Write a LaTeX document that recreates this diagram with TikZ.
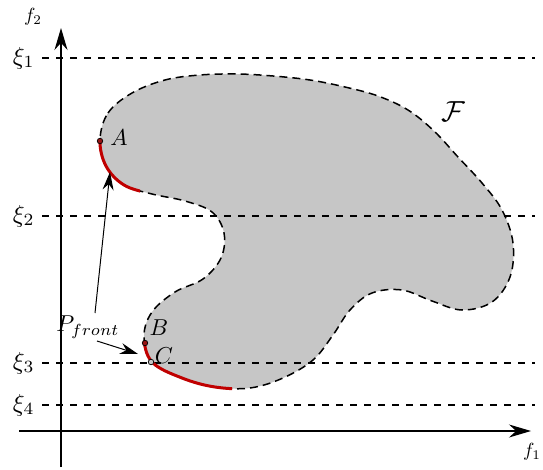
\documentclass[tikz,border=0pt]{standalone}
\usetikzlibrary{arrows.meta}
\definecolor{regiongray}{RGB}{198,198,198}
\definecolor{frontred}{RGB}{192,0,0}
\definecolor{dotred}{RGB}{150,20,20}
\begin{document}
\begin{tikzpicture}[x=1pt,y=-1pt,
 lbl/.style={scale=2.3, inner sep=0pt},
 xilbl/.style={scale=2.45, inner sep=0pt},
 axlbl/.style={scale=1.9, inner sep=0pt},
 guide/.style={dash pattern=on 7pt off 7pt, line width=1.1pt},
 boundary/.style={dash pattern=on 8pt off 5pt, line width=1.5pt},
 frontline/.style={draw=frontred, line width=3pt},
 axisline/.style={line width=1.2pt, -{Stealth[length=22pt,width=13pt]}},
 ptr/.style={line width=1pt, -{Stealth[length=18pt,width=11pt]}},
 ptdot/.style={circle, draw=black, line width=0.7pt, inner sep=0pt, minimum size=5.5pt}]
\useasboundingbox (0,0) rectangle (543,470);
\def\myregion{plot[smooth cycle, tension=0.6] coordinates {
 (100,140) (108,113) (132,93) (165,80) (200,75) (237,74) (273,76) (310,80)
 (345,87) (378,96) (408,110) (434,131) (458,157) (482,183) (502,210)
 (513,243) (510,277) (492,302) (462,310) (432,301) (402,290) (372,293)
 (350,310) (333,335) (313,360) (283,378) (250,388) (215,387) (182,378)
 (152,362) (144,336) (152,312) (175,292) (203,279) (221,258) (224,233)
 (212,212) (185,201) (152,194) (124,185) (106,166)}}
% region
\fill[regiongray] \myregion;
% guide lines
\foreach \n/\y in {1/58,2/216,3/363,4/405}{
  \coordinate (gs\n) at (42,\y);
  \coordinate (ge\n) at (535,\y);
  \draw[guide] (gs\n) -- (ge\n);
  \node[xilbl, anchor=east] (xi\n) at (35,\y) {$\xi_{\n}$};
}
% boundary
\draw[boundary] \myregion;
% Pareto front parts
\begin{scope}
 \clip (90,141) rectangle (140,200);
 \draw[frontline] \myregion;
\end{scope}
\begin{scope}
 \clip (130,343) rectangle (232,400);
 \draw[frontline] \myregion;
\end{scope}
% axes
\coordinate (yb) at (61,467);
\coordinate (yt) at (61,28);
\coordinate (xl) at (19,431);
\coordinate (xr) at (531,431);
\draw[axisline] (yb) -- (yt);
\draw[axisline] (xl) -- (xr);
\node[axlbl] (f2) at (33,17) {$f_2$};
\node[axlbl] (f1) at (532,452) {$f_1$};
% points
\node[ptdot, fill=dotred] (A) at (100,141) {};
\node[ptdot, fill=dotred] (B) at (145,343) {};
\node[ptdot, fill=regiongray] (C) at (151,362) {};
\node[lbl] (Alab) at (119,138) {$A$};
\node[lbl] (Blab) at (159,328) {$B$};
\node[lbl] (Clab) at (164,356) {$C$};
\node[scale=2.9, inner sep=0pt] (F) at (453,112) {$\mathcal{F}$};
% P_front
\node[lbl] (P) at (88,327) {$P_{front}$};
\coordinate (pa) at (110,172);
\coordinate (pb) at (138,354);
\coordinate (ps1) at (95,313);
\coordinate (ps2) at (97,341);
\draw[ptr] (ps1) -- (pa);
\draw[ptr] (ps2) -- (pb);
\end{tikzpicture}
\end{document}
